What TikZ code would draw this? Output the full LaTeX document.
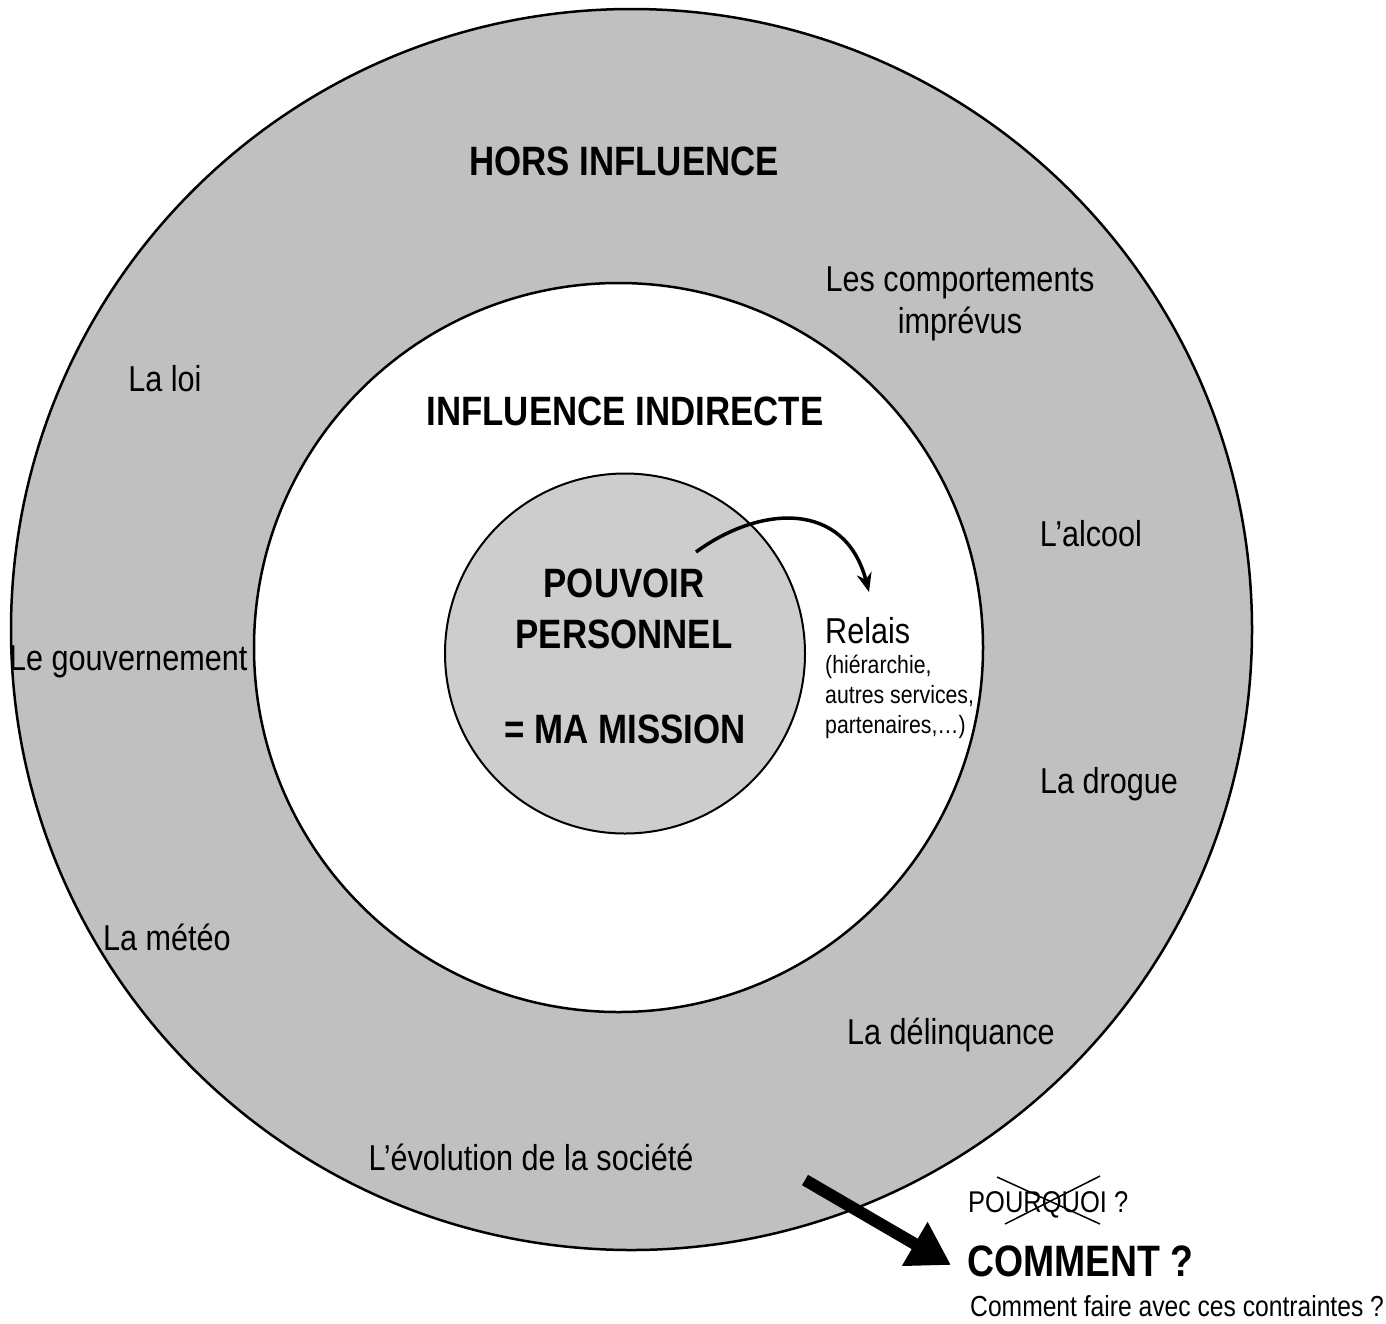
\documentclass[tikz,border=0pt]{standalone}
\usepackage{fontspec}
\setmainfont{Liberation Sans}[FakeStretch=0.85]
\usetikzlibrary{arrows.meta}
\definecolor{ringgray}{RGB}{192,192,192}
\definecolor{coregray}{RGB}{205,205,205}
\tikzset{
  ring/.style={draw=black,line width=2.5pt},
  head/.style={font=\fontsize{41}{46}\selectfont\bfseries,anchor=base,inner sep=0pt},
  lbl/.style={font=\fontsize{36}{42}\selectfont,anchor=base,inner sep=0pt},
  small/.style={font=\fontsize{25}{30}\selectfont,anchor=base west,inner sep=0pt},
  note/.style={font=\fontsize{29}{34}\selectfont,anchor=base west,inner sep=0pt},
}
\begin{document}
\begin{tikzpicture}[x=1pt,y=-1pt]
\useasboundingbox (0,0) rectangle (1386,1323);
% circles
\fill[white] (0,0) rectangle (1386,1323);
\node[ring,fill=ringgray,circle,minimum size=1241pt,inner sep=0pt] (outer) at (631.5,629.5) {};
\node[ring,fill=white,circle,minimum size=729pt,inner sep=0pt] (middle) at (618.5,647.5) {};
\node[draw=black,line width=2pt,fill=coregray,circle,minimum size=360pt,inner sep=0pt] (core) at (625,653.5) {};
% headings
\node[head] (hors) at (624,175) {HORS INFLUENCE};
\node[head] (indir) at (625,425) {INFLUENCE INDIRECTE};
\node[head] (pouvoir) at (624,597) {POUVOIR};
\node[head] (personnel) at (624,648) {PERSONNEL};
\node[head] (mission) at (625,743) {= MA MISSION};
% outer labels
\node[lbl] (comp1) at (960,291) {Les comportements};
\node[lbl] (comp2) at (960,333) {imprévus};
\node[lbl] (loi) at (165,391) {La loi};
\node[lbl] (alcool) at (1091,546) {L’alcool};
\node[lbl,anchor=base west] (gouv) at (9,670) {Le gouvernement};
\node[lbl] (drogue) at (1109,793) {La drogue};
\node[lbl] (meteo) at (167,950) {La météo};
\node[lbl] (delin) at (951,1044) {La délinquance};
\node[lbl] (evol) at (531,1170) {L’évolution de la société};
% relais
\node[lbl,anchor=base west] (relais) at (825,643) {Relais};
\node[small] (rel1) at (825,673) {(hiérarchie,};
\node[small] (rel2) at (825,703) {autres services,};
\node[small] (rel3) at (825,733) {partenaires,…)};
% curved arrow
\coordinate (cstart) at (696,552);
\coordinate (cend) at (869,592);
\draw[line width=3.5pt,-{Stealth[length=19pt,width=15pt]}] (cstart) .. controls (760,505) and (845,500) .. (cend);
% big arrow
\coordinate (bstart) at (805,1180);
\coordinate (btip) at (951,1265);
\draw[line width=12pt,-{Triangle[length=42pt,width=48pt]}] (bstart) -- (btip);
% bottom texts
\node[note,font=\fontsize{30}{34}\selectfont] (pourquoi) at (968,1212) {POURQUOI ?};
\draw[line width=1.5pt] (997,1177) -- (1100,1224);
\draw[line width=1.5pt] (1005,1224) -- (1100,1176);
\node[font=\fontsize{44}{49}\selectfont\bfseries,anchor=base west,inner sep=0pt] (comment) at (967,1276) {COMMENT ?};
\node[note] (faire) at (970,1316) {Comment faire avec ces contraintes ?};
\end{tikzpicture}
\end{document}
